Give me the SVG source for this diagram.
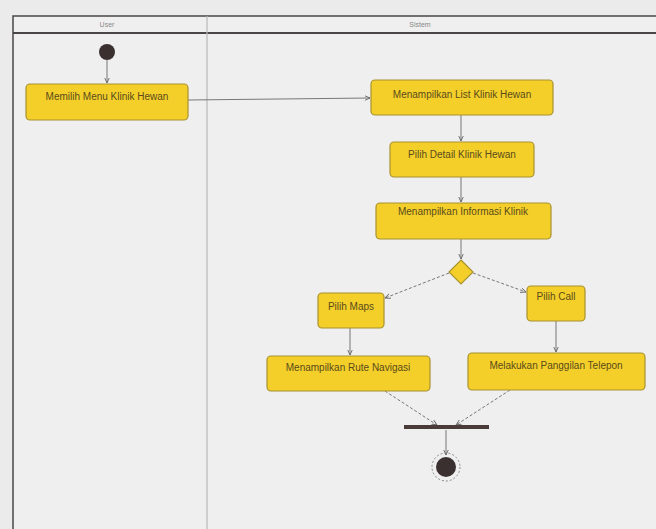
<svg xmlns="http://www.w3.org/2000/svg" width="656" height="529" viewBox="0 0 656 529">
<defs>
<marker id="arr" viewBox="0 0 10 10" refX="9" refY="5" markerWidth="6" markerHeight="6" orient="auto"><path d="M0,1 L9,5 L0,9" fill="none" stroke="#666" stroke-width="1.5"/></marker>
<style>
.act{fill:#f4cf2a;stroke:#a8922e;stroke-width:1.2}
.t{font-family:"Liberation Sans",Arial,sans-serif;font-size:10px;fill:#5a4a1a;text-anchor:middle}
.h{font-family:"Liberation Sans",Arial,sans-serif;font-size:7px;fill:#888;text-anchor:middle}
.c{fill:none;stroke:#777;stroke-width:1}
.d{fill:none;stroke:#777;stroke-width:1;stroke-dasharray:3,2}
</style>
</defs>
<rect width="656" height="529" fill="#ebebec"/>
<g id="frame">
<rect x="13" y="16" width="660" height="530" fill="#efeff0" stroke="#4a4545" stroke-width="1.5"/>
<line x1="13" y1="33" x2="656" y2="33" stroke="#4a4545" stroke-width="1.8"/>
<line x1="207" y1="16" x2="207" y2="529" stroke="#b8b8b8" stroke-width="1.2"/>
<text class="h" x="107" y="27">User</text>
<text class="h" x="420" y="27">Sistem</text>
</g>
<g id="connectors">
<line class="c" x1="107" y1="60" x2="107" y2="83" marker-end="url(#arr)"/>
<line class="c" x1="188" y1="100" x2="370" y2="98" marker-end="url(#arr)"/>
<line class="c" x1="461" y1="115" x2="461" y2="141" marker-end="url(#arr)"/>
<line class="c" x1="461" y1="177" x2="461" y2="202" marker-end="url(#arr)"/>
<line class="c" x1="461" y1="239" x2="461" y2="259" marker-end="url(#arr)"/>
<line class="d" x1="449" y1="273" x2="385" y2="298" marker-end="url(#arr)"/>
<line class="d" x1="473" y1="273" x2="526" y2="292" marker-end="url(#arr)"/>
<line class="c" x1="350" y1="328" x2="350" y2="355" marker-end="url(#arr)"/>
<line class="c" x1="556" y1="321" x2="556" y2="352" marker-end="url(#arr)"/>
<line class="d" x1="385" y1="391" x2="437" y2="425" marker-end="url(#arr)"/>
<line class="d" x1="510" y1="390" x2="456" y2="425" marker-end="url(#arr)"/>
<line class="c" x1="446" y1="430" x2="446" y2="455" marker-end="url(#arr)"/>
</g>
<g id="start"><circle cx="107" cy="52" r="8" fill="#3a3030"/></g>
<g id="n1"><rect class="act" x="26" y="84" width="162" height="36" rx="4"/><text class="t" x="107" y="100">Memilih Menu Klinik Hewan</text></g>
<g id="n2"><rect class="act" x="371" y="80" width="182" height="35" rx="4"/><text class="t" x="462" y="98">Menampilkan List Klinik Hewan</text></g>
<g id="n3"><rect class="act" x="390" y="142" width="144" height="35" rx="4"/><text class="t" x="462" y="158">Pilih Detail Klinik Hewan</text></g>
<g id="n4"><rect class="act" x="376" y="203" width="175" height="36" rx="4"/><text class="t" x="463" y="215">Menampilkan Informasi Klinik</text></g>
<g id="decision"><polygon class="act" points="461,260 473,272 461,284 449,272"/></g>
<g id="n5"><rect class="act" x="318" y="293" width="66" height="35" rx="4"/><text class="t" x="351" y="310">Pilih Maps</text></g>
<g id="n6"><rect class="act" x="527" y="286" width="58" height="35" rx="4"/><text class="t" x="556" y="300">Pilih Call</text></g>
<g id="n7"><rect class="act" x="267" y="356" width="163" height="35" rx="4"/><text class="t" x="348" y="371">Menampilkan Rute Navigasi</text></g>
<g id="n8"><rect class="act" x="468" y="353" width="177" height="37" rx="4"/><text class="t" x="556" y="369">Melakukan Panggilan Telepon</text></g>
<g id="join"><rect x="404" y="425" width="85" height="4" fill="#4a3a38"/></g>
<g id="end"><circle cx="446" cy="467" r="14" fill="none" stroke="#888" stroke-width="1" stroke-dasharray="2,2"/><circle cx="446" cy="467" r="10" fill="#3a3030"/></g>
</svg>
